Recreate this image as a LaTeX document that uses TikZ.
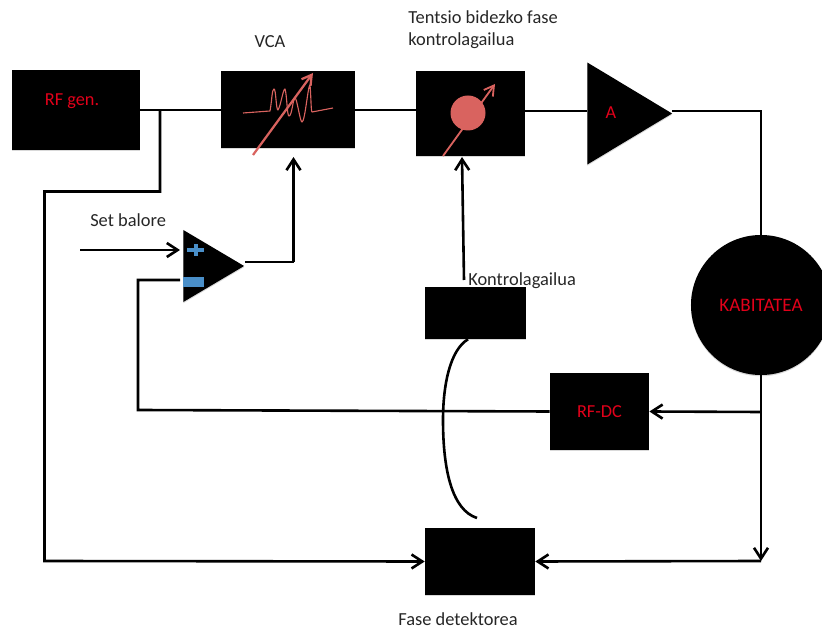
\documentclass[tikz,border=0pt]{standalone}
\usepackage{fontspec}
\setmainfont{Carlito}
\usepackage{tikz}
\usetikzlibrary{positioning,arrows.meta,calc,shapes.geometric,shadows}
\definecolor{inkblack}{HTML}{000000}
\definecolor{labelgrey}{HTML}{262626}
\definecolor{redtext}{HTML}{E2001A}
\definecolor{iconred}{HTML}{D9635F}
\definecolor{signblue}{HTML}{4A8FC9}
\tikzset{
  blk/.style={draw=none, fill=inkblack, text=redtext, inner sep=0pt,
              drop shadow={shadow xshift=0pt, shadow yshift=-0.9pt, opacity=0.3}},
  amp/.style={blk, isosceles triangle, isosceles triangle stretches=true, shape border rotate=0, anchor=lower side},
  lbl/.style={font=\fontsize{13.1}{15.6}\selectfont, text=labelgrey, inner sep=0pt, align=left},
  redlbl/.style={font=\fontsize{13}{15}\selectfont, text=redtext, inner sep=0pt},
  wire/.style={line width=1.85pt, inkblack},
  arr/.style={wire, -{Straight Barb[length=2.7mm,width=3.5mm]}},
  icon arr/.style={line width=1.6pt, iconred, -{Straight Barb[length=2.4mm,width=2.8mm]}},
}
\begin{document}
\begin{tikzpicture}[x=0.025cm, y=-0.025cm]
  \useasboundingbox (0,0) rectangle (822,628);
  % blocks along the top row
  \node[blk, minimum width=3.2cm, minimum height=2cm] (rfgen) at (76,110) {};
  \node[blk, minimum width=3.35cm, minimum height=1.93cm] (vca) at (288,109.5) {};
  \node[blk, minimum width=2.72cm, minimum height=2.12cm] (phase) at (470.5,113.5) {};
  \node[amp, minimum width=2.55cm, minimum height=2.12cm] (ampA) at (587,113.5) {};
  \node[redlbl] (rfgentxt) at (72,101) {RF gen.};
  \node[redlbl] (atxt) at (611,113) {A};
  % the rest of the loop
  \node[blk, circle, minimum size=3.5cm, font=\fontsize{13.6}{15}\selectfont] (cav) at (761,305) {KABITATEA};
  \node[blk, minimum width=2.48cm, minimum height=1.93cm, font=\fontsize{13}{15}\selectfont] (rfdc) at (599.5,411.5) {RF-DC};
  \node[blk, minimum width=2.52cm, minimum height=1.3cm] (ctrl) at (475.5,313) {};
  \node[blk, minimum width=2.75cm, minimum height=1.68cm] (det) at (480,561.5) {};
  \node[amp, minimum width=1.8cm, minimum height=1.52cm] (sum) at (183,266) {};
  % labels
  \node[lbl] (vcalbl) at (270,42) {VCA};
  \node[lbl, anchor=west] (phaselbl) at (408,30) {Tentsio bidezko fase\\kontrolagailua};
  \node[lbl, anchor=west] (setlbl) at (90,220) {Set balore};
  \node[lbl, anchor=west] (ctrllbl) at (468,281) {Kontrolagailua};
  \node[lbl] (detlbl) at (458,619) {Fase detektorea};
  % free ends and bends
  \coordinate (tap) at (160,110);
  \coordinate (setin) at (80,250);
  \coordinate (plus) at (180,250);
  \coordinate (minus) at (180,280);
  \coordinate (cavtap) at (761,412);
  \coordinate (cavend) at (761,561);
  \coordinate (ampout) at (672,111);
  \coordinate (sumbend) at (293.5,262);
  \coordinate (vcain) at (293.5,157);
  \coordinate (phasein) at (462,157);
  \coordinate (ctrlout) at (464,280);
  % wires
  \draw[wire] (rfgen.east |- tap) -- (vca.west |- tap);
  \draw[wire] (vca.east |- tap) -- (phase.west |- tap);
  \draw[wire] (phase.east |- ampout) -- (ampA.lower side |- ampout);
  \draw[wire] (ampout) -| (cav.north);
  \draw[arr] (cav.south) -- (cavend);
  \draw[arr] (cavtap) -- (rfdc.east);
  \draw[wire] (rfdc.west) -- (138,410) -- (138,280) -- (minus);
  \draw[arr] (cavend) -- (det.east);
  \draw[arr] (tap) -- (160,191.5) -- (44.5,191.5) -- (44.5,561) -- (det.west);
  \draw[arr] (setin) -- (plus);
  \draw[wire] (sum.east |- sumbend) -- (sumbend);
  \draw[arr] (sumbend) -- (vcain);
  \draw[arr] (ctrlout) -- (phasein);
  \draw[wire] (ctrl.south -| 468,0) .. controls (450,350) and (443,385) .. (443,420)
    .. controls (443,470) and (452,510) .. (477,518);
  % sign marks on the comparator
  \fill[signblue] (187,248.5) rectangle (204,252);
  \fill[signblue] (194,244) rectangle (197.5,256);
  \fill[signblue] (183,277) rectangle (204,287);
  % VCA icon
  \draw[iconred, line width=0.8pt, line join=round] (243,113) -- (270,111)
    .. controls (272,100) and (272,89) .. (274,89)
    .. controls (276,89) and (276,110) .. (278,110)
    .. controls (281,105) and (283,89) .. (285,89)
    .. controls (287,95) and (287,116) .. (289,116)
    .. controls (292,116) and (293,98) .. (295,98)
    .. controls (297,98) and (300,122) .. (302,122)
    .. controls (305,122) and (308,85) .. (310,85)
    .. controls (311,95) and (311,112) .. (312,112) -- (333,108);
  \draw[icon arr] (253,155) -- (313,73);
  % phase shifter icon
  \fill[iconred] (468,113) circle (17.5);
  \draw[icon arr, line width=1.3pt] (443,156) -- (495,84);
\end{tikzpicture}
\end{document}
